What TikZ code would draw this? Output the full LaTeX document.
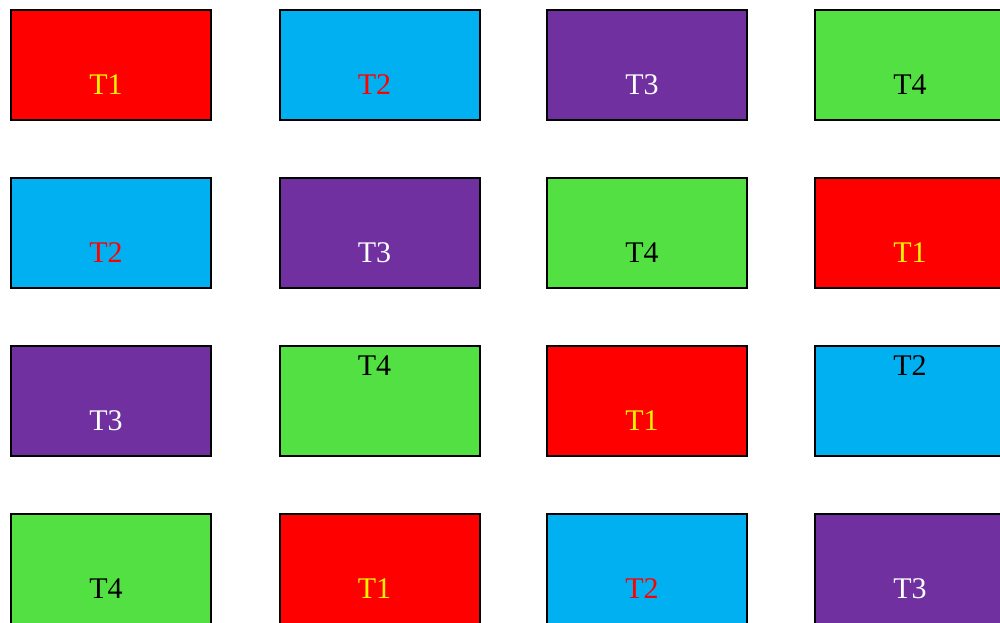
\documentclass[tikz,border=0pt]{standalone}
\usepackage{fontspec}
\setmainfont{Liberation Serif}
\usepackage{xcolor}
\definecolor{tred}{RGB}{255,0,0}
\definecolor{tcyan}{RGB}{0,176,240}
\definecolor{tpurple}{RGB}{112,48,160}
\definecolor{tgreen}{RGB}{82,224,66}
\usetikzlibrary{positioning}

\begin{document}
\begin{tikzpicture}[x=1pt,y=-1pt,
  tile/.style={draw,line width=2pt,inner sep=0pt,text width=200pt,align=center,
    minimum height=110pt,font=\fontsize{30}{36}\selectfont,
    text height=84pt,text depth=26pt,execute at end node=\hspace*{10pt}},
  toptext/.style={text height=29pt,text depth=81pt},
  redtile/.style={tile,fill=tred,text=yellow},
  cyantile/.style={tile,fill=tcyan,text=tred},
  purpletile/.style={tile,fill=tpurple,text=white},
  greentile/.style={tile,fill=tgreen,text=black}
]
  \useasboundingbox (0,0) rectangle (1000,622);
  % Row 1
  \node[redtile]    (r1c1) at (111,65)   {T1};
  \node[cyantile]   (r1c2) at (379.5,65) {T2};
  \node[purpletile] (r1c3) at (647,65)   {T3};
  \node[greentile]  (r1c4) at (915,65)   {T4};
  % Row 2
  \node[cyantile]   (r2c1) at (111,233)   {T2};
  \node[purpletile] (r2c2) at (379.5,233) {T3};
  \node[greentile]  (r2c3) at (647,233)   {T4};
  \node[redtile]    (r2c4) at (915,233)   {T1};
  % Row 3
  \node[purpletile]         (r3c1) at (111,401)   {T3};
  \node[greentile,toptext]  (r3c2) at (379.5,401) {T4};
  \node[redtile]            (r3c3) at (647,401)   {T1};
  \node[cyantile,toptext,text=black] (r3c4) at (915,401) {T2};
  % Row 4
  \node[greentile]  (r4c1) at (111,569)   {T4};
  \node[redtile]    (r4c2) at (379.5,569) {T1};
  \node[cyantile]   (r4c3) at (647,569)   {T2};
  \node[purpletile] (r4c4) at (915,569)   {T3};
\end{tikzpicture}
\end{document}
